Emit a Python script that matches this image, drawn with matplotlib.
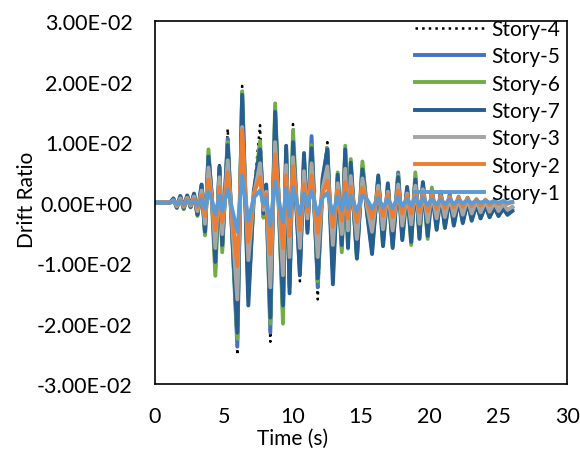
import matplotlib
matplotlib.use("Agg")
import matplotlib.pyplot as plt
from matplotlib.ticker import FuncFormatter

plt.rcParams['font.family'] = ['Lato', 'DejaVu Sans']

# time of each turning point (s)
t_pts = [0, 1.1, 1.35, 1.6, 1.85, 2.1, 2.35, 2.6, 2.85, 3.1,
         3.4, 3.65, 3.9, 4.15, 4.4, 4.7, 4.9, 5.3, 6.0, 6.35,
         6.8, 7.2, 7.65, 7.9, 8.1, 8.4, 8.75, 9.32, 9.55, 9.8,
         10.05, 10.55, 10.85, 11.1, 11.4, 11.85, 12.2, 12.55, 12.95, 13.3,
         13.6, 13.85, 14.05, 14.25, 14.7, 15.1, 15.45, 15.8, 16.25, 16.6,
         16.95, 17.3, 17.7, 18.0, 18.35, 18.65, 18.95, 19.25, 19.5, 19.85,
         20.15, 20.5, 20.8, 21.1, 21.45, 21.75, 22.1, 22.4, 22.75, 23.05,
         23.4, 23.7, 24.05, 24.35, 24.7, 25.0, 25.35, 25.65, 26.0]

# drift ratio values, in units of 1e-3
story4 = [0, 0, 0.5, -0.8, 0.9, -0.9, 1.0, -0.6, 1.3, -1.8,
          2.8, -5.0, 8.6, 0.5, -11.5, 6.2, -8.0, 12.2, -25.2, 19.3,
          -12.8, 1.5, 12.8, -2.0, 2.0, -23.0, 15.8, -19.5, 9.5, -14.5,
          13.0, -13.0, 8.0, -4.0, 10.8, -16.0, 3.0, 10.0, -9.8, 4.5,
          -8.0, 8.5, -7.0, 6.8, -9.0, 6.3, -1.5, -7.5, 3.8, -6.5,
          2.5, -7.0, 4.8, -5.5, 2.0, -5.5, 4.5, -5.5, 3.0, -5.0,
          2.2, -3.8, 1.5, -3.5, 1.2, -3.0, 0.8, -2.8, 0.6, -2.5,
          0.2, -2.2, 0.0, -2.0, -0.3, -1.8, -0.5, -1.6, -1.0]
story5 = [0, 0, 0.6, -0.7, 1.0, -1.0, 1.1, -0.7, 1.4, -1.9,
          2.9, -5.2, 8.0, 0.8, -10.8, 5.8, -7.4, 10.6, -23.8, 18.2,
          -14.5, 1.0, 9.5, -1.5, 2.5, -21.5, 14.5, -18.0, 8.8, -13.5,
          10.5, -11.5, 7.5, -4.5, 11.0, -14.0, 2.5, 8.5, -10.5, 4.0,
          -7.5, 8.0, -6.8, 6.0, -8.5, 6.0, -1.2, -7.0, 3.5, -6.2,
          2.8, -6.5, 5.0, -5.0, 2.4, -5.2, 4.2, -5.0, 3.2, -4.6,
          2.0, -3.5, 1.8, -3.2, 1.4, -2.8, 1.0, -2.6, 0.8, -2.2,
          0.4, -2.0, 0.2, -1.8, 0.0, -1.6, -0.2, -1.5, -0.8]
story6 = [0, 0, 0.5, -0.9, 0.8, -1.1, 0.9, -0.8, 1.2, -2.2,
          2.6, -5.4, 8.8, 0.2, -12.1, 5.5, -8.2, 10.0, -22.5, 18.4,
          -15.5, 0.8, 10.2, -2.5, 1.5, -20.0, 16.4, -20.0, 9.0, -14.0,
          12.0, -10.5, 7.0, -3.5, 9.5, -13.0, 3.5, 9.0, -11.0, 5.0,
          -8.2, 9.4, -7.6, 7.2, -9.3, 6.8, -1.8, -7.8, 4.2, -7.0,
          2.2, -7.2, 4.6, -6.0, 1.8, -7.0, 5.0, -5.8, 2.8, -6.0,
          2.5, -4.2, 1.2, -4.0, 1.0, -3.6, 0.6, -3.2, 0.4, -2.8,
          0.0, -2.6, -0.2, -2.4, -0.5, -2.2, -0.8, -2.0, -1.2]
story7 = [0, 0, 0.7, -0.8, 1.1, -0.9, 1.2, -0.7, 1.5, -2.0,
          3.0, -4.8, 7.6, 1.0, -9.8, 6.0, -7.0, 9.5, -21.5, 17.8,
          -17.0, 2.0, 8.8, -1.8, 3.0, -19.0, 15.0, -17.0, 9.4, -15.0,
          10.0, -12.0, 8.2, -5.0, 9.0, -12.5, 4.0, 8.8, -13.5, 4.6,
          -7.0, 8.8, -7.4, 6.6, -9.2, 5.5, -2.0, -8.5, 4.5, -7.2,
          3.2, -7.5, 4.2, -6.2, 2.6, -6.5, 3.8, -6.0, 3.4, -5.5,
          1.8, -4.5, 1.4, -4.2, 0.8, -3.8, 0.5, -3.4, 0.2, -3.0,
          -0.3, -2.6, -0.5, -2.4, -0.8, -2.2, -1.0, -2.0, -1.4]
story3 = [0, 0, 0.4, -0.6, 0.7, -0.7, 0.8, -0.5, 1.0, -1.4,
          2.0, -3.5, 5.8, 0.6, -7.5, 4.2, -5.2, 7.0, -16.0, 12.5,
          -9.5, 1.2, 6.5, -1.2, 1.8, -14.0, 10.0, -12.0, 6.2, -9.0,
          7.5, -7.5, 5.2, -2.6, 6.5, -9.0, 2.3, 6.0, -7.0, 3.2,
          -5.2, 5.6, -4.6, 4.4, -6.0, 4.0, -0.8, -4.8, 2.8, -4.4,
          1.8, -4.6, 3.0, -3.8, 1.5, -3.6, 2.8, -3.5, 2.2, -3.2,
          1.5, -2.6, 1.1, -2.4, 0.9, -2.2, 0.7, -2.0, 0.6, -1.8,
          0.3, -1.6, 0.2, -1.5, 0.0, -1.4, -0.2, -1.2, -0.7]
story2 = [0, 0, 0.3, -0.4, 0.4, -0.5, 0.5, -0.3, 0.6, -0.8,
          1.2, -2.2, 3.8, 0.4, -4.6, 2.6, -3.2, 5.0, -10.5, 12.0,
          -6.5, 1.6, 4.2, -0.6, 1.4, -8.5, 8.0, -7.5, 4.5, -5.5,
          6.0, -4.5, 3.0, -1.5, 4.5, -5.0, 1.5, 3.6, -4.0, 2.0,
          -3.0, 3.4, -2.6, 2.6, -3.2, 2.5, 0.2, -2.6, 1.8, -2.2,
          1.4, -2.4, 2.0, -1.8, 1.2, -1.8, 1.8, -1.6, 1.5, -1.4,
          1.2, -1.0, 1.0, -0.9, 1.0, -0.8, 0.9, -0.7, 0.8, -0.6,
          0.6, -0.5, 0.5, -0.4, 0.4, -0.3, 0.3, -0.2, 0.1]
story1 = [0, 0, 0.2, -0.2, 0.2, -0.3, 0.3, -0.1, 0.3, -0.4,
          0.6, -1.0, 1.8, 0.3, -2.0, 1.2, -1.4, 2.2, -4.8, 4.5,
          -3.0, 0.8, 2.0, -0.2, 0.8, -3.8, 3.5, -3.2, 2.4, -2.2,
          2.6, -2.0, 1.5, -0.6, 2.0, -2.0, 0.8, 1.6, -1.8, 1.0,
          -1.2, 1.6, -1.0, 1.2, -1.4, 1.2, 0.5, -1.0, 0.8, -0.8,
          0.6, -0.9, 1.0, -0.6, 0.6, -0.5, 0.9, -0.5, 0.8, -0.4,
          0.6, -0.3, 0.5, -0.2, 0.5, -0.2, 0.4, -0.1, 0.4, -0.1,
          0.3, 0.0, 0.3, 0.0, 0.2, 0.0, 0.2, 0.0, 0.1]

series = [
    ("Story-4", story4, "black", ":", 1.8),
    ("Story-5", story5, "#4472C4", "-", 2.8),
    ("Story-6", story6, "#70AD47", "-", 2.8),
    ("Story-7", story7, "#255E91", "-", 2.8),
    ("Story-3", story3, "#A5A5A5", "-", 2.8),
    ("Story-2", story2, "#ED7D31", "-", 2.8),
    ("Story-1", story1, "#5B9BD5", "-", 2.8),
]

fig = plt.figure(figsize=(5.8, 4.52), dpi=100)
ax = fig.add_axes([0.267, 0.148, 0.711, 0.803])

for name, vals, col, ls, lw in series:
    ax.plot(t_pts, [v * 1e-3 for v in vals], color=col, linestyle=ls,
            linewidth=lw, label=name)

ax.set_xlim(0, 30)
ax.set_ylim(-0.03, 0.03)
ax.set_xticks([0, 5, 10, 15, 20, 25, 30])
ax.set_yticks([-0.03, -0.02, -0.01, 0, 0.01, 0.02, 0.03])
ax.yaxis.set_major_formatter(FuncFormatter(lambda v, p: f"{v:.2E}"))
ax.tick_params(length=0, labelsize=15.5)
ax.tick_params(axis="y", pad=16)
ax.tick_params(axis="x", pad=16)
for s in ax.spines.values():
    s.set_color("black")
    s.set_linewidth(1.2)

ax.set_xlabel("Time (s)", fontsize=15)
ax.set_ylabel("Drift Ratio", fontsize=15)
ax.xaxis.set_label_coords(0.335, -0.12)
ax.yaxis.set_label_coords(-0.285, 0.51)

ax.legend(loc="upper right", bbox_to_anchor=(1.012, 1.04), frameon=False,
          fontsize=15, handlelength=3.3, labelspacing=0.35,
          handletextpad=0.35, borderaxespad=0.2)

fig.savefig("out.png", dpi=100)
